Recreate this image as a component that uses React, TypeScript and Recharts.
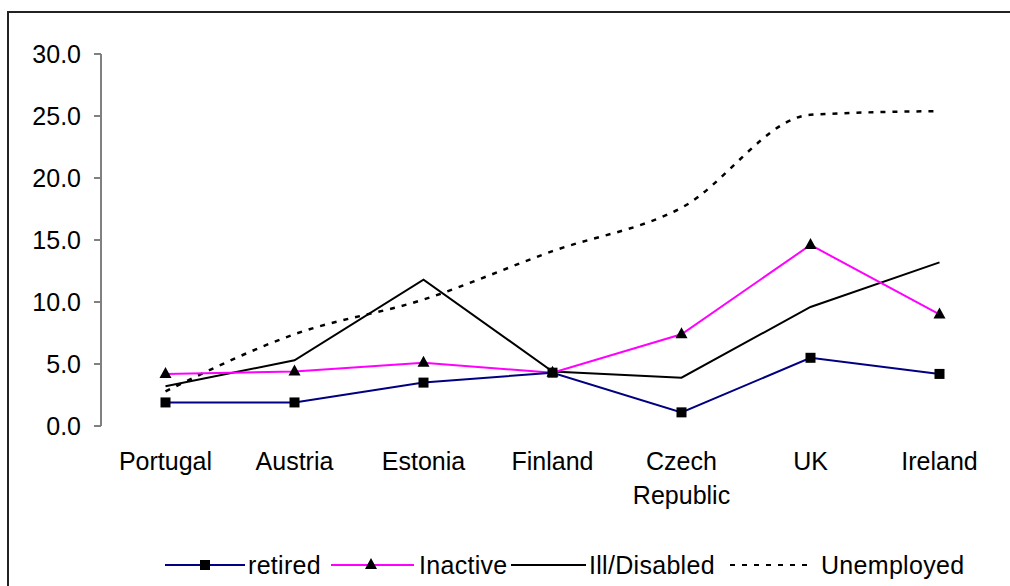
import React from 'react';
import { LineChart, Line, XAxis, YAxis } from 'recharts';

const countries = ['Portugal', 'Austria', 'Estonia', 'Finland', 'Czech Republic', 'UK', 'Ireland'];
const retired = [1.9, 1.9, 3.5, 4.3, 1.1, 5.5, 4.2];
const inactive = [4.2, 4.4, 5.1, 4.3, 7.4, 14.6, 9.0];
const illDisabled = [3.2, 5.3, 11.8, 4.4, 3.9, 9.6, 13.2];
const unemployed = [2.8, 7.4, 10.2, 14.1, 17.6, 25.1, 25.4];
const yTicks = [0, 5, 10, 15, 20, 25, 30];
const bandTicks = [0, 1, 2, 3, 4, 5, 6, 7];
const labelTicks = [0.5, 1.5, 2.5, 3.5, 4.5, 5.5, 6.5];

const FONT = 'Liberation Sans, Arial, sans-serif';

const data = countries.map((c, i) => ({
    x: i + 0.5,
    country: c,
    retired: retired[i],
    inactive: inactive[i],
    ill: illDisabled[i],
    unemployed: unemployed[i],
}));

const SquareDot = (props: any) => {
    const { cx, cy } = props;
    if (cx == null || cy == null) return null;
    return <rect x={cx - 5} y={cy - 5} width={10} height={10} fill="#000" />;
};

const TriangleDot = (props: any) => {
    const { cx, cy } = props;
    if (cx == null || cy == null) return null;
    return <polygon points={`${cx},${cy - 7} ${cx + 6},${cy + 4} ${cx - 6},${cy + 4}`} fill="#000" />;
};

const CountryTick = (props: any) => {
    const { x, y, payload } = props;
    const name = countries[Math.floor(payload.value)] || '';
    const lines = name.split(' ');
    return (
        <text x={x} y={y} textAnchor="middle" fontFamily={FONT} fontSize={25} fill="#000">
            {lines.map((l, i) => (
                <tspan key={l} x={x} dy={i === 0 ? 36 : 34}>{l}</tspan>
            ))}
        </text>
    );
};

// legend drawn by hand, Excel style
const Legend = () => (
    <svg width={1010} height={40} style={{ position: 'absolute', left: 0, top: 545 }}>
        <g fontFamily={FONT} fontSize={25} fill="#000" letterSpacing={0.3}>
            <line x1={165} x2={245} y1={20} y2={20} stroke="#000080" strokeWidth={2} />
            <rect x={200} y={15} width={10} height={10} fill="#000" />
            <text x={248} y={29}>retired</text>
            <line x1={331} x2={414} y1={20} y2={20} stroke="#ff00ff" strokeWidth={2} />
            <polygon points="371,13 377,24 365,24" fill="#000" />
            <text x={419} y={29}>Inactive</text>
            <line x1={511} x2={586} y1={20} y2={20} stroke="#000" strokeWidth={2} />
            <text x={589} y={29}>Ill/Disabled</text>
            <line x1={730} x2={812} y1={20} y2={20} stroke="#000" strokeWidth={2} strokeDasharray="5 7" />
            <text x={821} y={29}>Unemployed</text>
        </g>
    </svg>
);

export default function App() {
    return (
        <div style={{ position: 'absolute', left: 0, top: 0, width: 1010, height: 586, overflow: 'hidden', background: '#fff' }}>
            <div style={{ position: 'absolute', left: 7, top: 11, width: 1020, height: 600, borderLeft: '2px solid #222', borderTop: '2px solid #222' }} />
            <div style={{ position: 'absolute', left: 0, top: 0 }}>
                <LineChart width={1010} height={586} data={data} margin={{ top: 54, right: 6, bottom: 0, left: 0 }}>
                    <XAxis
                        xAxisId="band"
                        dataKey="x"
                        type="number"
                        domain={[0, 7]}
                        ticks={bandTicks}
                        height={0}
                        tick={false}
                        tickSize={7}
                        tickLine={{ stroke: '#808080', strokeWidth: 2 }}
                        axisLine={{ stroke: '#222', strokeWidth: 2 }}
                        interval={0}
                    />
                    <XAxis
                        xAxisId="labels"
                        dataKey="x"
                        type="number"
                        domain={[0, 7]}
                        ticks={labelTicks}
                        height={160}
                        tick={<CountryTick />}
                        tickLine={false}
                        axisLine={false}
                        interval={0}
                    />
                    <YAxis
                        domain={[0, 30]}
                        ticks={yTicks}
                        width={101}
                        tickSize={7}
                        tickMargin={13}
                        interval={0}
                        tickFormatter={(v) => v.toFixed(1)}
                        tick={{ fontFamily: FONT, fontSize: 25, fill: '#000' }}
                        axisLine={{ stroke: '#808080', strokeWidth: 2 }}
                        tickLine={{ stroke: '#808080', strokeWidth: 2 }}
                    />
                    <Line xAxisId="band" type="monotone" dataKey="unemployed" stroke="#000" strokeWidth={2.5} strokeDasharray="5 7" dot={false} isAnimationActive={false} />
                    <Line xAxisId="band" type="linear" dataKey="ill" stroke="#000" strokeWidth={2} dot={false} isAnimationActive={false} />
                    <Line xAxisId="band" type="linear" dataKey="inactive" stroke="#ff00ff" strokeWidth={2} dot={<TriangleDot />} isAnimationActive={false} />
                    <Line xAxisId="band" type="linear" dataKey="retired" stroke="#000080" strokeWidth={2} dot={<SquareDot />} isAnimationActive={false} />
                </LineChart>
            </div>
            <Legend />
        </div>
    );
}
